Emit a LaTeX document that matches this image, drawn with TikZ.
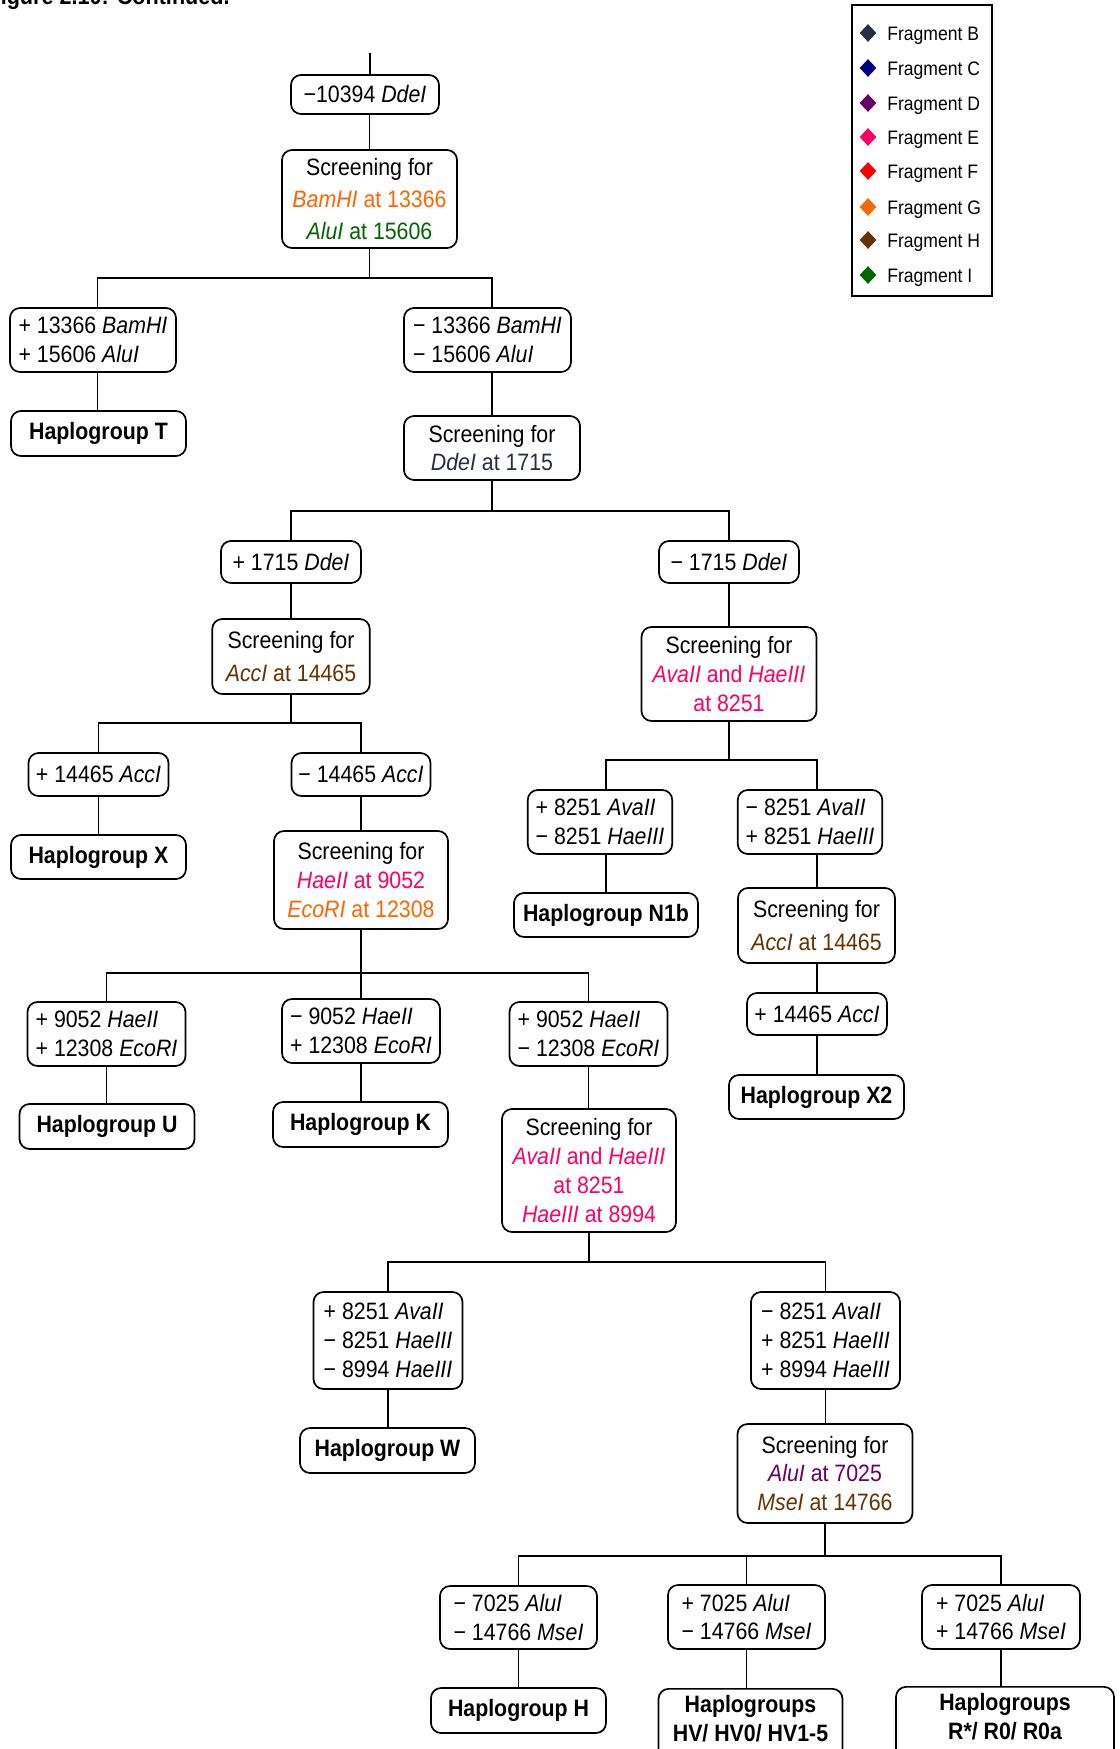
\documentclass[tikz,border=0pt]{standalone}
\usepackage{fontspec}
\setmainfont{Liberation Sans}[FakeStretch=0.9]
\usetikzlibrary{shapes.geometric}
\definecolor{fragB}{HTML}{253047}
\definecolor{fragC}{HTML}{000080}
\definecolor{fragD}{HTML}{660066}
\definecolor{fragE}{HTML}{FF0066}
\definecolor{fragF}{HTML}{FF0000}
\definecolor{fragG}{HTML}{FF6600}
\definecolor{fragH}{HTML}{663300}
\definecolor{fragI}{HTML}{006600}
\newcommand\mainsz{\fontsize{11.85}{14.35}\selectfont}
\newcommand\legsz{\fontsize{9.75}{12}\selectfont}
\begin{document}
\begin{tikzpicture}[x=0.5pt,y=-0.5pt,
  ln/.style={line width=0.85pt},
  bx/.style={draw, rounded corners=5pt, line width=0.85pt, inner sep=0pt, align=center, font=\mainsz},
  lb/.style={bx, align=left},
  hg/.style={bx, font=\mainsz\bfseries, minimum width=87.5pt, minimum height=22.5pt}]
\useasboundingbox (0,0) rectangle (1119,1749);
\fill[white] (0,0) rectangle (1119,1749);
% title (cut off at top)
\node[anchor=base east, inner sep=0pt, font=\fontsize{12}{14}\selectfont\bfseries] (title) at (230,4.5) {Figure 2.10: Continued.};
% legend
\node[draw, line width=0.9pt, minimum width=70pt, minimum height=145.5pt, inner sep=0pt] (leg) at (922,150.5) {};
\foreach \c/\l/\y in {fragB/B/33, fragC/C/68, fragD/D/103, fragE/E/137, fragF/F/171, fragG/G/207, fragH/H/240, fragI/I/275} {
  \node[diamond, fill=\c, inner sep=0pt, minimum width=8.5pt, minimum height=9pt] (dm\l) at (868,\y) {};
  \node[anchor=base west, inner sep=0pt, font=\legsz] (lt\l) at (887,\y+7.7) {Fragment \l};
}
% level 0
\coordinate (top) at (370,53);
\node[bx, minimum width=74pt, minimum height=19.5pt] (A) at (365,94.5) {−10394 \textit{DdeI}};
\node[bx, minimum width=87.5pt, minimum height=49pt] (S1) at (369.5,199) {Screening for\\[1.5pt]\textcolor{fragG}{\textit{BamHI} at 13366}\\[1.5pt]\textcolor{fragI}{\textit{AluI} at 15606}};
\draw[ln] (top) -- (top |- A.north);
\draw[ln] (S1.north |- A.south) -- (S1.north);
\coordinate (j1) at (369.5,278);
\node[lb, minimum width=83pt, minimum height=32pt] (B1) at (93,340) {+ 13366 \textit{BamHI}\\+ 15606 \textit{AluI}};
\node[lb, minimum width=83.5pt, minimum height=32pt] (B2) at (487.5,340) {− 13366 \textit{BamHI}\\− 15606 \textit{AluI}};
\draw[ln] (S1.south) -- (j1);
\draw[ln] ([xshift=2.25pt]B1.north) |- (j1) -| ([xshift=2.25pt]B2.north);
\node[hg] (HT) at (98.5,433.5) {Haplogroup T};
\draw[ln] ([xshift=2.25pt]B1.south) -- ([xshift=2.25pt]B1.south |- HT.north);
\node[bx, minimum width=88pt, minimum height=32pt] (S2) at (492,448) {Screening for\\\textcolor{fragB}{\textit{DdeI} at 1715}};
\draw[ln] ([xshift=2.25pt]B2.south) -- ([xshift=2.25pt]B2.south |- S2.north);
% level DdeI
\coordinate (j2) at (492,511);
\node[bx, minimum width=70pt, minimum height=21pt] (C1) at (291,562) {+ 1715 \textit{DdeI}};
\node[bx, minimum width=70pt, minimum height=21pt] (C2) at (729,562) {− 1715 \textit{DdeI}};
\draw[ln] (S2.south) -- (j2);
\draw[ln] (C1.north) |- (j2) -| (C2.north);
\node[bx, minimum width=78.75pt, minimum height=37.5pt] (S3) at (291,656.5) {Screening for\\[2.3pt]\textcolor{fragH}{\textit{AccI} at 14465}};
\draw[ln] (C1.south) -- (S3.north);
\node[bx, minimum width=87.5pt, minimum height=47pt] (S4) at (729,674) {Screening for\\\textcolor{fragE}{\textit{AvaII} and \textit{HaeIII}}\\\textcolor{fragE}{at 8251}};
\draw[ln] (C2.south) -- (S4.north);
% AccI branch
\coordinate (j3) at (291,723);
\node[bx, minimum width=70pt, minimum height=21.5pt] (D1) at (98.5,774.5) {+ 14465 \textit{AccI}};
\node[bx, minimum width=69.5pt, minimum height=21.5pt] (D2) at (361,774.5) {− 14465 \textit{AccI}};
\draw[ln] (S3.south) -- (j3);
\draw[ln] (D1.north) |- (j3) -| (D2.north);
\node[hg, minimum height=22pt] (HX) at (98.5,857) {Haplogroup X};
\draw[ln] (D1.south) -- (HX.north);
\node[bx, minimum width=87pt, minimum height=49pt] (S5) at (361,880) {Screening for\\\textcolor{fragE}{\textit{HaeII} at 9052}\\\textcolor{fragG}{\textit{EcoRI} at 12308}};
\draw[ln] (D2.south) -- (S5.north);
% AvaII branch (right)
\coordinate (j5) at (729,760);
\node[lb, minimum width=72.25pt, minimum height=32pt] (E1) at (600,822) {+ 8251 \textit{AvaII}\\− 8251 \textit{HaeIII}};
\node[lb, minimum width=72.25pt, minimum height=32pt] (E2) at (810,822) {− 8251 \textit{AvaII}\\+ 8251 \textit{HaeIII}};
\draw[ln] (S4.south) -- (j5);
\draw[ln] ([xshift=3pt]E1.north) |- (j5) -| ([xshift=3.5pt]E2.north);
\node[hg, minimum width=92pt, minimum height=22pt] (HN) at (606,915) {Haplogroup N1b};
\draw[ln] ([xshift=3pt]E1.south) -- ([xshift=3pt]E1.south |- HN.north);
\node[bx, minimum width=78.5pt, minimum height=37.5pt] (S6) at (816.5,925.5) {Screening for\\[2.3pt]\textcolor{fragH}{\textit{AccI} at 14465}};
\draw[ln] ([xshift=3.5pt]E2.south) -- ([xshift=3.5pt]E2.south |- S6.north);
\node[bx, minimum width=70pt, minimum height=21pt] (F1) at (817,1014) {+ 14465 \textit{AccI}};
\draw[ln] (F1.north |- S6.south) -- (F1.north);
\node[hg, minimum height=22pt] (HX2) at (816.5,1097) {Haplogroup X2};
\draw[ln] (F1.south) -- (F1.south |- HX2.north);
% HaeII / EcoRI branch
\coordinate (j4) at (361,973);
\node[lb, minimum width=79pt, minimum height=32pt] (G1) at (106.5,1034) {+ 9052 \textit{HaeII}\\+ 12308 \textit{EcoRI}};
\node[lb, minimum width=79pt, minimum height=32pt] (G2) at (361,1031) {− 9052 \textit{HaeII}\\+ 12308 \textit{EcoRI}};
\node[lb, minimum width=79pt, minimum height=32pt] (G3) at (588.5,1034) {+ 9052 \textit{HaeII}\\− 12308 \textit{EcoRI}};
\draw[ln] (S5.south) -- (j4);
\draw[ln] (G1.north) |- (j4) -| (G3.north);
\draw[ln] (j4) -- (G2.north);
\node[hg] (HU) at (107,1126.5) {Haplogroup U};
\node[hg] (HK) at (360.5,1124.5) {Haplogroup K};
\draw[ln] (G1.south) -- (G1.south |- HU.north);
\draw[ln] (G2.south) -- (G2.south |- HK.north);
\node[bx, minimum width=87pt, minimum height=61.5pt] (S7) at (589,1170.5) {Screening for\\\textcolor{fragE}{\textit{AvaII} and \textit{HaeIII}}\\\textcolor{fragE}{at 8251}\\\textcolor{fragE}{\textit{HaeIII} at 8994}};
\draw[ln] (G3.south) -- (G3.south |- S7.north);
% 8251 / 8994 branch
\coordinate (j6) at (589,1262);
\node[lb, minimum width=74.5pt, minimum height=48.5pt] (H1) at (388,1340.5) {+ 8251 \textit{AvaII}\\− 8251 \textit{HaeIII}\\− 8994 \textit{HaeIII}};
\node[lb, minimum width=74.5pt, minimum height=48.5pt] (H2) at (825.5,1340.5) {− 8251 \textit{AvaII}\\+ 8251 \textit{HaeIII}\\+ 8994 \textit{HaeIII}};
\draw[ln] (S7.south) -- (j6);
\draw[ln] (H1.north) |- (j6) -| (H2.north);
\node[hg] (HW) at (387.5,1450.5) {Haplogroup W};
\draw[ln] (H1.south) -- (H1.south |- HW.north);
\node[bx, minimum width=87.5pt, minimum height=49.5pt] (S8) at (825,1473.5) {Screening for\\\textcolor{fragD}{\textit{AluI} at 7025}\\\textcolor{fragH}{\textit{MseI} at 14766}};
\draw[ln] (H2.south) -- (H2.south |- S8.north);
% AluI / MseI branch
\coordinate (j7) at (825,1556);
\node[lb, minimum width=78.5pt, minimum height=31.5pt] (I1) at (518.5,1617.5) {− 7025 \textit{AluI}\\− 14766 \textit{MseI}};
\node[lb, minimum width=78.5pt, minimum height=32pt] (I2) at (746.5,1617) {+ 7025 \textit{AluI}\\− 14766 \textit{MseI}};
\node[lb, minimum width=79pt, minimum height=32pt] (I3) at (1001,1617) {+ 7025 \textit{AluI}\\+ 14766 \textit{MseI}};
\draw[ln] (S8.south) -- (j7);
\draw[ln] (I1.north) |- (j7) -| (I3.north);
\draw[ln] (I2.north) -- (I2.north |- j7);
\node[hg] (HH) at (518.5,1710.5) {Haplogroup H};
\draw[ln] (I1.south) -- (I1.south |- HH.north);
\node[bx, font=\mainsz\bfseries, anchor=north, minimum width=92pt, inner ysep=3.3pt] (HHV) at (750.5,1688) {Haplogroups\\HV/ HV0/ HV1-5\\\strut};
\node[bx, font=\mainsz\bfseries, anchor=north, minimum width=109pt, inner ysep=3.3pt] (HR) at (1005,1686) {Haplogroups\\R*/ R0/ R0a\\\strut};
\draw[ln] (I2.south) -- (I2.south |- HHV.north);
\draw[ln] (I3.south) -- (I3.south |- HR.north);
\end{tikzpicture}
\end{document}
